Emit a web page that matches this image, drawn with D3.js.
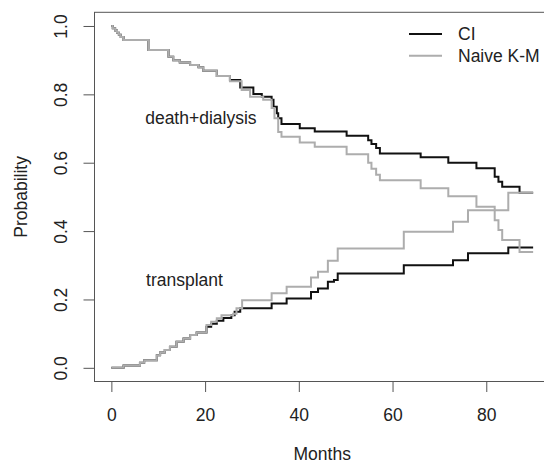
<!DOCTYPE html>
<html>
<head>
<meta charset="utf-8">
<script src="https://cdn.jsdelivr.net/npm/d3@7"></script>
<style>
  html, body { margin: 0; padding: 0; background: #fff; }
  svg { display: block; }
  text { font-family: "Liberation Sans", Arial, sans-serif; fill: #222; }
</style>
</head>
<body>
<svg id="chart" width="544" height="465"></svg>
<script>
// Cumulative incidence (CI) vs naive Kaplan-Meier estimates, months 0-90
const xTicks = [0, 20, 40, 60, 80];
const yTicks = [0, 0.2, 0.4, 0.6, 0.8, 1.0];
const seriesNames = ["CI", "Naive K-M"];
const seriesColors = ["#111111", "#adadad"];

// death+dialysis, CI
const deathCITime = [0, 0.3, 0.8, 1.2, 1.6, 2.0, 2.6, 7.9, 12.2, 13.2, 14.6, 16.8, 18.6, 19.6, 22.5, 25.3, 27.5, 30.3, 32.1, 34.2, 34.6, 35.3, 35.6, 36.3, 40.2, 43.4, 50.2, 54.8, 55.5, 56.5, 57.3, 66.0, 71.9, 77.9, 81.8, 82.6, 83.4, 87.1, 90];
const deathCIProb = [1.0, 0.993, 0.987, 0.980, 0.974, 0.968, 0.959, 0.930, 0.910, 0.900, 0.893, 0.886, 0.879, 0.869, 0.854, 0.842, 0.820, 0.801, 0.793, 0.784, 0.764, 0.745, 0.730, 0.713, 0.701, 0.691, 0.679, 0.666, 0.655, 0.643, 0.627, 0.616, 0.600, 0.584, 0.559, 0.544, 0.530, 0.512, 0.512];

// death+dialysis, naive K-M
const deathKMTime = [0, 0.3, 0.8, 1.2, 1.6, 2.0, 2.6, 7.9, 12.2, 13.2, 14.6, 16.8, 18.6, 19.6, 22.5, 25.3, 27.8, 29.6, 32.4, 34.2, 34.8, 35.6, 36.3, 40.2, 43.4, 50.2, 54.8, 55.5, 56.5, 57.3, 66.0, 71.9, 77.9, 81.8, 82.6, 83.4, 87.1, 90];
const deathKMProb = [1.0, 0.993, 0.987, 0.980, 0.974, 0.968, 0.959, 0.930, 0.910, 0.900, 0.893, 0.886, 0.879, 0.869, 0.854, 0.838, 0.813, 0.793, 0.784, 0.760, 0.730, 0.690, 0.676, 0.659, 0.647, 0.625, 0.600, 0.582, 0.565, 0.549, 0.525, 0.502, 0.471, 0.432, 0.403, 0.374, 0.339, 0.339];

// transplant, CI
const transCITime = [0, 2.6, 6.1, 7.0, 9.7, 10.4, 11.4, 12.5, 13.9, 15.4, 16.8, 18.2, 20.3, 21.3, 22.5, 23.9, 25.6, 26.3, 27.5, 34.2, 37.4, 42.6, 44.1, 46.2, 47.5, 48.3, 62.4, 72.9, 76.1, 84.7, 90];
const transCIProb = [0, 0.007, 0.015, 0.022, 0.037, 0.045, 0.052, 0.062, 0.076, 0.086, 0.096, 0.103, 0.120, 0.129, 0.138, 0.146, 0.154, 0.164, 0.174, 0.188, 0.203, 0.222, 0.232, 0.252, 0.257, 0.276, 0.300, 0.315, 0.335, 0.352, 0.352];

// transplant, naive K-M
const transKMTime = [0, 2.6, 6.1, 7.0, 9.7, 10.4, 11.4, 12.5, 13.9, 15.4, 16.8, 18.2, 20.3, 21.3, 22.5, 23.5, 26.0, 26.7, 27.9, 34.2, 37.4, 42.6, 44.1, 46.2, 48.3, 62.4, 72.9, 76.1, 84.7, 90];
const transKMProb = [0, 0.007, 0.015, 0.022, 0.037, 0.045, 0.052, 0.062, 0.076, 0.086, 0.096, 0.103, 0.125, 0.135, 0.145, 0.154, 0.158, 0.174, 0.198, 0.218, 0.237, 0.264, 0.281, 0.313, 0.349, 0.398, 0.427, 0.461, 0.512, 0.512];

const svg = d3.select("#chart");
const box = { left: 94.5, right: 550, top: 12.3, bottom: 381.5 };
const fontSize = 17.5;

// Axis ranges padded by 4% on each side
const x = d3.scaleLinear().domain([-3.6, 93.6]).range([box.left, box.right]);
const y = d3.scaleLinear().domain([-0.04, 1.04]).range([box.bottom, box.top]);

const zip = (ts, ps) => ts.map((t, i) => [t, ps[i]]);
const line = d3.line().x(d => x(d[0])).y(d => y(d[1])).curve(d3.curveStepAfter);

// Plot frame
svg.append("rect")
  .attr("x", box.left).attr("y", box.top)
  .attr("width", box.right - box.left).attr("height", box.bottom - box.top)
  .attr("fill", "none").attr("stroke", "#555").attr("stroke-width", 1);

// Curves: CI first, naive K-M on top
const curves = [
  { data: zip(deathCITime, deathCIProb), color: seriesColors[0] },
  { data: zip(transCITime, transCIProb), color: seriesColors[0] },
  { data: zip(deathKMTime, deathKMProb), color: seriesColors[1] },
  { data: zip(transKMTime, transKMProb), color: seriesColors[1] }
];
svg.append("g").selectAll("path").data(curves).join("path")
  .attr("d", d => line(d.data))
  .attr("fill", "none")
  .attr("stroke", d => d.color)
  .attr("stroke-width", 2);

// Bottom axis
const gx = svg.append("g").attr("transform", `translate(0,${box.bottom})`)
  .call(d3.axisBottom(x).tickValues(xTicks).tickSize(10.5).tickPadding(16.6).tickSizeOuter(0));
gx.select(".domain").remove();
gx.append("line").attr("x1", x(xTicks[0])).attr("x2", x(xTicks[xTicks.length - 1]))
  .attr("stroke", "#555");
gx.selectAll(".tick line").attr("stroke", "#555");
gx.selectAll("text").attr("font-size", fontSize).attr("fill", "#222")
  .attr("font-family", "Liberation Sans, Arial, sans-serif");

// Left axis with rotated labels
const gy = svg.append("g").attr("transform", `translate(${box.left},0)`)
  .call(d3.axisLeft(y).tickValues(yTicks).tickSize(11).tickFormat(d3.format(".1f")).tickSizeOuter(0));
gy.select(".domain").remove();
gy.append("line").attr("y1", y(yTicks[0])).attr("y2", y(yTicks[yTicks.length - 1]))
  .attr("stroke", "#555");
gy.selectAll(".tick line").attr("stroke", "#555");
gy.selectAll("text")
  .attr("x", null).attr("dy", null)
  .attr("text-anchor", "middle")
  .attr("transform", "translate(-28,0) rotate(-90)")
  .attr("font-size", fontSize).attr("fill", "#222")
  .attr("font-family", "Liberation Sans, Arial, sans-serif");

// Axis titles
svg.append("text")
  .attr("x", (box.left + box.right) / 2).attr("y", 460)
  .attr("text-anchor", "middle").attr("font-size", fontSize)
  .text("Months");
svg.append("text")
  .attr("transform", `translate(26.5,${(box.top + box.bottom) / 2}) rotate(-90)`)
  .attr("text-anchor", "middle").attr("font-size", fontSize)
  .text("Probability");

// Curve annotations
svg.append("text")
  .attr("x", x(19.1)).attr("y", y(0.732)).attr("dy", "0.35em")
  .attr("text-anchor", "middle").attr("font-size", fontSize)
  .text("death+dialysis");
svg.append("text")
  .attr("x", x(15.6)).attr("y", y(0.257)).attr("dy", "0.35em")
  .attr("text-anchor", "middle").attr("font-size", fontSize)
  .text("transplant");

// Legend
const legend = svg.append("g").attr("transform", "translate(409,34)");
seriesNames.forEach((name, i) => {
  legend.append("line")
    .attr("x1", 0).attr("x2", 33).attr("y1", i * 21.7).attr("y2", i * 21.7)
    .attr("stroke", seriesColors[i]).attr("stroke-width", 2);
  legend.append("text")
    .attr("x", 49).attr("y", i * 21.7).attr("dy", "0.35em")
    .attr("font-size", fontSize)
    .text(name);
});
</script>
</body>
</html>
